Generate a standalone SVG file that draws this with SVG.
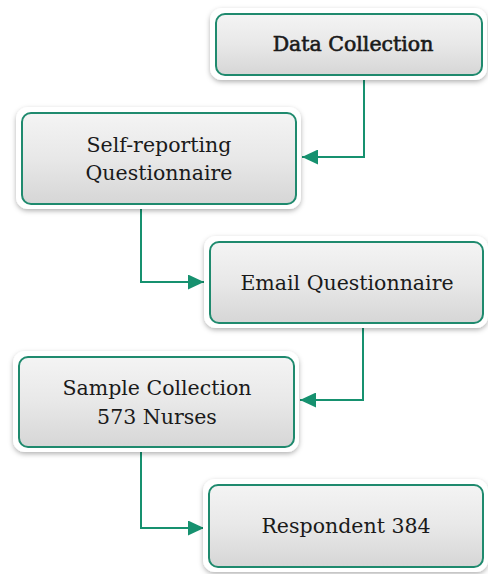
<svg xmlns="http://www.w3.org/2000/svg" width="488" height="574" viewBox="0 0 488 574">
  <style>
    .frame { fill: #ffffff; filter: url(#shadow); }
    .box { fill: url(#boxFill); stroke: #1f8a6e; stroke-width: 2; }
    .label { font-family: "DejaVu Serif", "Liberation Serif", serif; font-size: 20.5px; fill: #1a1a1a; text-anchor: middle; }
    .title { stroke: #1a1a1a; stroke-width: 0.6; }
    .link { fill: none; stroke: #16916f; stroke-width: 2; }
  </style>
  <defs>
    <linearGradient id="boxFill" x1="0" y1="0" x2="0" y2="1">
      <stop offset="0" stop-color="#f4f4f4"/>
      <stop offset="0.5" stop-color="#e8e8e8"/>
      <stop offset="1" stop-color="#d6d6d6"/>
    </linearGradient>
    <filter id="shadow" x="-10%" y="-20%" width="120%" height="150%">
      <feDropShadow dx="0" dy="2" stdDeviation="2.5" flood-color="#000" flood-opacity="0.3"/>
    </filter>
    <marker id="arrow" viewBox="0 0 16 15" refX="16" refY="7.5" markerWidth="16" markerHeight="15" markerUnits="userSpaceOnUse" orient="auto">
      <path d="M0,0 L16,7.5 L0,15 Z" fill="#16916f"/>
    </marker>
  </defs>

  <g id="connectors">
    <path class="link" d="M364,80 V157 H302" marker-end="url(#arrow)"/>
    <path class="link" d="M141,209 V282 H204" marker-end="url(#arrow)"/>
    <path class="link" d="M363,328 V400 H300" marker-end="url(#arrow)"/>
    <path class="link" d="M141,452 V528 H204" marker-end="url(#arrow)"/>
  </g>

  <g id="data-collection">
    <rect class="frame" x="210" y="8" width="277" height="72" rx="12"/>
    <rect class="box" x="216" y="14" width="266" height="61" rx="9"/>
    <text class="label title" x="353" y="51">Data Collection</text>
  </g>

  <g id="self-reporting">
    <rect class="frame" x="16" y="107" width="285" height="102" rx="12"/>
    <rect class="box" x="22" y="113" width="274" height="91" rx="9"/>
    <text class="label" x="159" y="152">Self-reporting</text>
    <text class="label" x="159" y="180">Questionnaire</text>
  </g>

  <g id="email-questionnaire">
    <rect class="frame" x="204" y="236" width="284" height="92" rx="12"/>
    <rect class="box" x="210" y="242" width="273" height="81" rx="9"/>
    <text class="label" x="347" y="290">Email Questionnaire</text>
  </g>

  <g id="sample-collection">
    <rect class="frame" x="13" y="351" width="286" height="101" rx="12"/>
    <rect class="box" x="19" y="357" width="275" height="90" rx="9"/>
    <text class="label" x="157" y="395">Sample Collection</text>
    <text class="label" x="157" y="424">573 Nurses</text>
  </g>

  <g id="respondent">
    <rect class="frame" x="203" y="479" width="285" height="93" rx="12"/>
    <rect class="box" x="209" y="485" width="274" height="82" rx="9"/>
    <text class="label" x="346" y="533">Respondent 384</text>
  </g>
</svg>
